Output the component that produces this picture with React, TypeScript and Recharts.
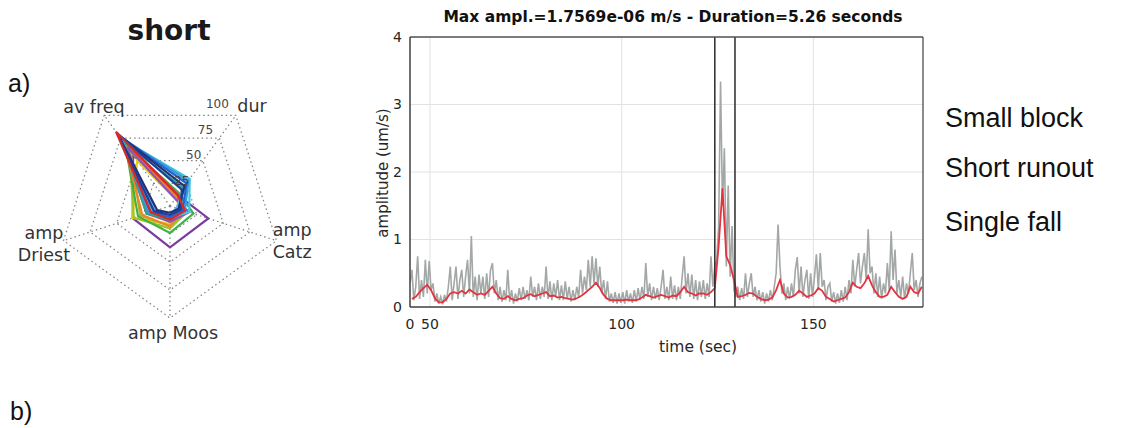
import React from 'react';
import {
  RadarChart, Radar, PolarGrid, PolarAngleAxis, PolarRadiusAxis,
  LineChart, Line, XAxis, YAxis, CartesianGrid, ReferenceLine,
} from 'recharts';

// ---------- radar (left panel) ----------
const radarAxes = ['av freq', 'dur', 'amp Catz', 'amp Moos', 'amp Driest'];
const radarTicks = [0, 25, 50, 75, 100];

const evPurple = [56, 12, 36, 37, 35];
const evYellow = [50, 8, 12, 16, 35];
const evOlive = [60, 10, 14, 18, 28];
const evYellowGreen = [62, 10, 16, 20, 34];
const evGreen = [68, 14, 22, 24, 30];
const evOrange = [70, 10, 12, 18, 26];
const evRedOrange = [74, 12, 10, 14, 22];
const evViolet = [65, 8, 18, 14, 20];
const evTeal = [72, 20, 10, 12, 22];
const evCyan = [74, 30, 18, 10, 16];
const evSky = [77, 26, 6, 8, 14];
const evLightBlue = [76, 28, 14, 8, 20];
const evBlue = [78, 25, 12, 10, 18];
const evNavy = [79, 22, 8, 6, 12];
const evDarkBlue = [80, 18, 10, 8, 15];
const evRed = [82, 12, 14, 12, 18];

const radarSeries = [
  { name: 'purple', color: '#7a3d9e', values: evPurple },
  { name: 'yellow', color: '#e6cf1c', values: evYellow },
  { name: 'olive', color: '#b4b424', values: evOlive },
  { name: 'yellowGreen', color: '#9cc424', values: evYellowGreen },
  { name: 'green', color: '#3fb04a', values: evGreen },
  { name: 'orange', color: '#f0862a', values: evOrange },
  { name: 'redOrange', color: '#e0552a', values: evRedOrange },
  { name: 'violet', color: '#8f52c2', values: evViolet },
  { name: 'teal', color: '#25a393', values: evTeal },
  { name: 'cyan', color: '#3fc9e3', values: evCyan },
  { name: 'sky', color: '#62b4f2', values: evSky },
  { name: 'lightBlue', color: '#3a9ad9', values: evLightBlue },
  { name: 'blue', color: '#2463d2', values: evBlue },
  { name: 'navy', color: '#223273', values: evNavy },
  { name: 'darkBlue', color: '#1f3c98', values: evDarkBlue },
  { name: 'red', color: '#d52a2a', values: evRed },
];

const radarData = radarAxes.map((axis, i) => {
  const row: Record<string, any> = { axis };
  radarSeries.forEach((s) => { row[s.name] = s.values[i]; });
  return row;
});

// ---------- time series (right panel) ----------
const grayStart = 44.8;
const grayStep = 0.5;
const grayValues = [
  0.35, 0.55, 0.1, 0.3, 0.75, 0.12, 0.4, 0.15, 0.7, 0.2,
  0.68, 0.25, 0.35, 0.08, 0.2, 0.05, 0.15, 0.04, 0.18, 0.08,
  0.3, 0.6, 0.1, 0.35, 0.6, 0.12, 0.4, 0.55, 0.15, 0.45,
  0.7, 0.2, 1.05, 0.15, 0.45, 0.1, 0.48, 0.2, 0.45, 0.12,
  0.5, 0.15, 0.55, 0.65, 0.2, 0.4, 0.1, 0.3, 0.08, 0.25,
  0.1, 0.55, 0.08, 0.25, 0.05, 0.2, 0.08, 0.28, 0.1, 0.3,
  0.12, 0.25, 0.1, 0.45, 0.15, 0.3, 0.1, 0.35, 0.12, 0.3,
  0.15, 0.6, 0.12, 0.38, 0.1, 0.35, 0.15, 0.4, 0.1, 0.32,
  0.1, 0.38, 0.12, 0.3, 0.08, 0.25, 0.1, 0.3, 0.15, 0.55,
  0.2, 0.45, 0.25, 0.7, 0.3, 0.75, 0.35, 0.72, 0.3, 0.6,
  0.2, 0.4, 0.12, 0.38, 0.08, 0.2, 0.06, 0.22, 0.05, 0.2,
  0.06, 0.22, 0.05, 0.25, 0.08, 0.2, 0.06, 0.25, 0.08, 0.28,
  0.1, 0.3, 0.12, 0.65, 0.15, 0.35, 0.1, 0.3, 0.12, 0.28,
  0.1, 0.3, 0.55, 0.12, 0.3, 0.1, 0.45, 0.12, 0.32, 0.1,
  0.3, 0.12, 0.45, 0.75, 0.2, 0.5, 0.15, 0.48, 0.12, 0.4,
  0.1, 0.38, 0.15, 0.4, 0.12, 0.35, 0.15, 0.75, 0.3, 0.6,
  0.7, 1.2, 3.34, 1.5, 2.35, 0.6, 1.8, 0.45, 1.2, 0.25,
  0.15, 0.3, 0.1, 0.28, 0.12, 0.5, 0.15, 0.35, 0.5, 0.15,
  0.3, 0.1, 0.25, 0.08, 0.22, 0.05, 0.2, 0.08, 0.25, 0.1,
  0.3, 0.5, 1.22, 0.6, 0.2, 0.35, 0.1, 0.3, 0.12, 0.35,
  0.15, 0.55, 0.74, 0.2, 0.6, 0.15, 0.4, 0.55, 0.12, 0.5,
  0.15, 0.45, 0.78, 0.25, 0.8, 0.3, 0.4, 0.1, 0.3, 0.35,
  0.08, 0.22, 0.05, 0.2, 0.06, 0.25, 0.08, 0.3, 0.1, 0.4,
  0.2, 0.7, 0.3, 0.55, 0.8, 0.35, 0.6, 0.8, 0.4, 1.15,
  0.5, 0.6, 0.2, 0.5, 0.15, 0.45, 0.12, 0.35, 0.2, 0.65,
  0.25, 1.12, 0.4, 0.85, 0.2, 0.4, 0.15, 0.45, 0.12, 0.35,
  0.2, 0.5, 0.8, 0.25, 0.4, 0.15, 0.35, 0.45,
];

const redStart = 45.3;
const redStep = 1;
const redValues = [
  0.12, 0.15, 0.22, 0.28, 0.33, 0.25, 0.13, 0.07, 0.07, 0.12,
  0.2, 0.22, 0.2, 0.24, 0.2, 0.26, 0.22, 0.18, 0.2, 0.18,
  0.24, 0.3, 0.2, 0.13, 0.12, 0.16, 0.12, 0.1, 0.12, 0.13,
  0.17, 0.19, 0.16, 0.18, 0.2, 0.22, 0.16, 0.17, 0.14, 0.15,
  0.13, 0.12, 0.11, 0.13, 0.16, 0.2, 0.25, 0.3, 0.36, 0.28,
  0.18, 0.12, 0.1, 0.1, 0.1, 0.1, 0.11, 0.1, 0.1, 0.11,
  0.14, 0.18, 0.16, 0.14, 0.16, 0.18, 0.16, 0.14, 0.17, 0.16,
  0.22, 0.3, 0.22, 0.2, 0.17, 0.2, 0.2, 0.18, 0.22, 0.28,
  0.9, 1.757, 0.75, 0.62, 0.4, 0.15, 0.16, 0.18, 0.21, 0.2,
  0.15, 0.12, 0.1, 0.11, 0.14, 0.25, 0.4, 0.2, 0.14, 0.15,
  0.18, 0.24, 0.2, 0.15, 0.17, 0.2, 0.28, 0.24, 0.15, 0.12,
  0.08, 0.1, 0.12, 0.14, 0.22, 0.36, 0.3, 0.28, 0.35, 0.46,
  0.32, 0.22, 0.15, 0.15, 0.18, 0.3, 0.22, 0.15, 0.12, 0.15,
  0.3, 0.22, 0.2, 0.3,
];

const eventStart = 124.3;
const eventEnd = 129.56;
const xDomain = [44.8, 178.6];
const xTicks = [44.8, 50, 100, 150];
const xTickLabels = ['0', '50', '100', '150'];
const yTicks = [0, 1, 2, 3, 4];

const grayData = grayValues.map((v, i) => ({ t: +(grayStart + i * grayStep).toFixed(2), v }));
const redData = redValues.map((v, i) => ({ t: +(redStart + i * redStep).toFixed(2), v }));

const CHART_FONT = 'DejaVu Sans';
const TEXT = '#262626';

const angleLayout: Record<string, { dx: number; lines: { t: string; dy: number }[] }> = {
  'av freq': { dx: -5.5, lines: [{ t: 'av freq', dy: 4 }] },
  dur: { dx: 11.5, lines: [{ t: 'dur', dy: 3 }] },
  'amp Catz': { dx: 8, lines: [{ t: 'amp', dy: -7 }, { t: 'Catz', dy: 15 }] },
  'amp Moos': { dx: 3, lines: [{ t: 'amp Moos', dy: 13 }] },
  'amp Driest': { dx: -12, lines: [{ t: 'amp', dy: -4 }, { t: 'Driest', dy: 18 }] },
};

function AngleTick(props: any) {
  const { x, y, payload } = props;
  const L = angleLayout[payload.value];
  if (!L) return <g />;
  return (
    <g>
      {L.lines.map((ln, k) => (
        <text key={k} x={x + L.dx} y={y + ln.dy} textAnchor="middle" fontSize={17.5}
          fill="#333" fontFamily={CHART_FONT}>{ln.t}</text>
      ))}
    </g>
  );
}

function RadiusTick(props: any) {
  const { x, y, payload } = props;
  if (payload.value === 0) return <g />;
  return (
    <text x={x} y={y + 4} textAnchor="middle" fontSize={12} fill="#444" fontFamily={CHART_FONT}>
      {payload.value}
    </text>
  );
}

export default function App() {
  return (
    <div style={{ position: 'absolute', left: 0, top: 0, width: 1129, height: 428, background: '#fff', overflow: 'hidden' }}>
      <div style={{ position: 'absolute', left: 0, top: 0 }}>
        <RadarChart width={340} height={380} cx={170} cy={206} outerRadius={112}
          startAngle={126} endAngle={-234} data={radarData}>
          <PolarGrid gridType="polygon" stroke="#808080" strokeDasharray="1.5 3" strokeWidth={1.2} />
          <PolarAngleAxis dataKey="axis" tick={<AngleTick />} axisLine={false} tickLine={false} />
          {radarSeries.map((s) => (
            <Radar key={s.name} dataKey={s.name} stroke={s.color} strokeWidth={2.2}
              fill="none" fillOpacity={0} dot={false} isAnimationActive={false} />
          ))}
          <PolarRadiusAxis angle={65} domain={[0, 100]} ticks={radarTicks} tickCount={5}
            axisLine={false} tickLine={false} tick={<RadiusTick />} />
        </RadarChart>
      </div>

      <div style={{ position: 'absolute', left: 330, top: 0 }}>
        <LineChart width={620} height={380} margin={{ top: 37, right: 27, bottom: 43, left: 50 }}>
          <CartesianGrid stroke="#e2e2e2" strokeWidth={1} />
          <XAxis type="number" dataKey="t" domain={xDomain} allowDataOverflow ticks={xTicks}
            interval={0} height={30} tickLine={false} tickMargin={6}
            tickFormatter={(v: number) => xTickLabels[xTicks.indexOf(v)] ?? ''}
            tick={{ fontSize: 14, fill: TEXT, fontFamily: CHART_FONT }}
            axisLine={{ stroke: '#444', strokeWidth: 1.5 }} />
          <YAxis type="number" domain={[0, 4]} ticks={yTicks} width={30} tickLine={false}
            allowDataOverflow interval={0}
            tick={{ fontSize: 14, fill: TEXT, fontFamily: CHART_FONT }}
            axisLine={{ stroke: '#444', strokeWidth: 1.5 }} />
          <Line data={grayData} dataKey="v" type="linear" stroke="#a3a8a6" strokeWidth={1.6}
            dot={false} activeDot={false} isAnimationActive={false} />
          <Line data={redData} dataKey="v" type="linear" stroke="#e2343f" strokeWidth={1.8}
            dot={false} activeDot={false} isAnimationActive={false} />
          <ReferenceLine x={eventStart} stroke="#2a2a2a" strokeWidth={1.5} />
          <ReferenceLine x={eventEnd} stroke="#2a2a2a" strokeWidth={1.5} />
          <ReferenceLine y={4} stroke="#555" strokeWidth={1.3} />
          <ReferenceLine x={xDomain[1]} stroke="#555" strokeWidth={1.3} />
        </LineChart>
      </div>

      <svg width={1129} height={428} style={{ position: 'absolute', left: 0, top: 0, pointerEvents: 'none' }}>
        <text x={169} y={40} textAnchor="middle" fontSize={28} fontWeight="bold" fill="#1a1a1a" fontFamily={CHART_FONT}>short</text>
        <text x={8} y={92} fontSize={25} fill="#111" fontFamily="Liberation Sans">a)</text>
        <text x={10} y={420} fontSize={25} fill="#111" fontFamily="Liberation Sans">b)</text>
        <text x={673} y={22} textAnchor="middle" fontSize={15.5} fontWeight="bold" fill="#111" fontFamily={CHART_FONT}>
          Max ampl.=1.7569e-06 m/s - Duration=5.26 seconds
        </text>
        <text x={388} y={173} textAnchor="middle" fontSize={15} fill={TEXT} fontFamily={CHART_FONT}
          transform="rotate(-90, 388, 173)">amplitude (um/s)</text>
        <text x={698} y={352} textAnchor="middle" fontSize={15.5} fill={TEXT} fontFamily={CHART_FONT}>time (sec)</text>
        <text x={945} y={127} fontSize={27} fill="#111" fontFamily="Liberation Sans">Small block</text>
        <text x={945} y={177} fontSize={27} fill="#111" fontFamily="Liberation Sans">Short runout</text>
        <text x={945} y={231} fontSize={27} fill="#111" fontFamily="Liberation Sans">Single fall</text>
      </svg>
    </div>
  );
}
